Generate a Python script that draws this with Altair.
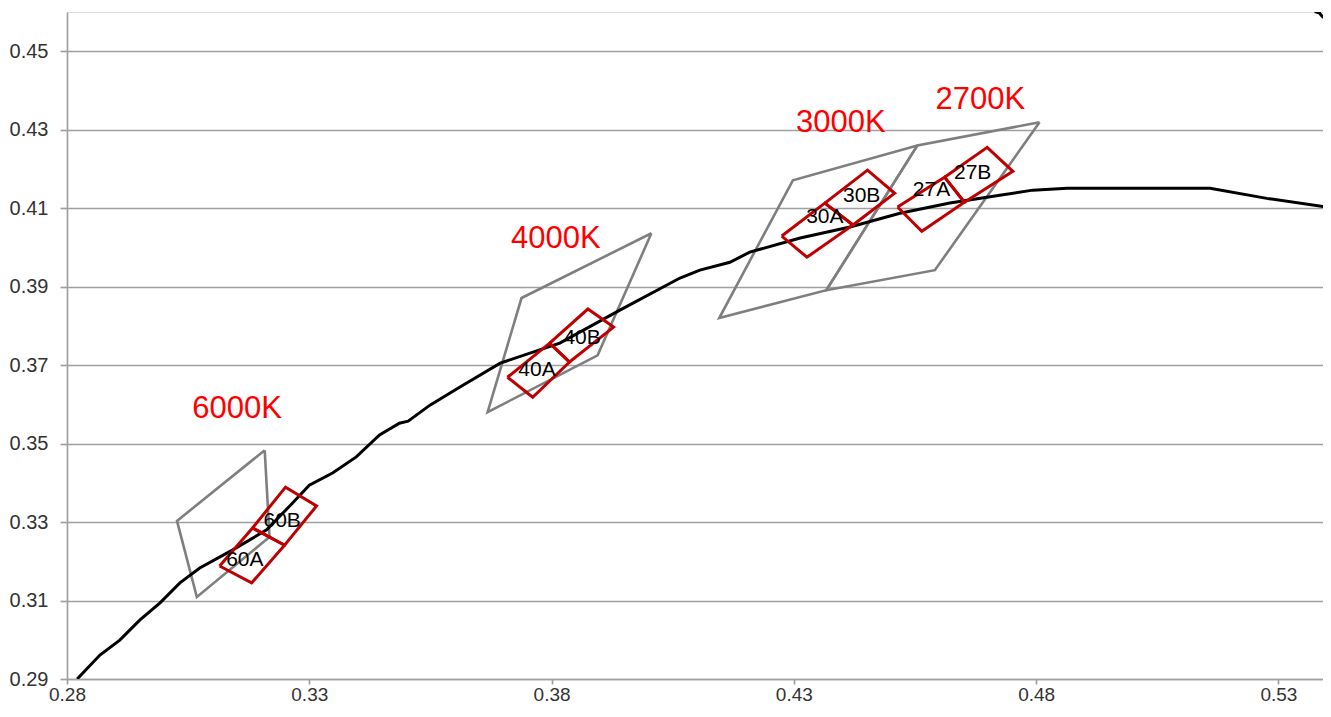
import altair as alt
import pandas as pd

# ---- Planckian locus (black curve) ----
locus_x = [0.2821, 0.2868, 0.2909, 0.2950, 0.2992, 0.3033, 0.3074, 0.3142, 0.3212,
           0.3265, 0.3300, 0.3348, 0.3397, 0.3445, 0.3486, 0.3504, 0.3549, 0.3611,
           0.3694, 0.3817, 0.3941, 0.4065, 0.4106, 0.4168, 0.4209, 0.4313, 0.4416,
           0.4519, 0.4622, 0.4725, 0.4793, 0.4864, 0.5159, 0.5276, 0.5400]
locus_y = [0.2900, 0.2961, 0.2999, 0.3050, 0.3094, 0.3145, 0.3183, 0.3229, 0.3280,
           0.3348, 0.3394, 0.3425, 0.3466, 0.3522, 0.3552, 0.3557, 0.3598, 0.3644,
           0.3705, 0.3756, 0.3840, 0.3922, 0.3942, 0.3962, 0.3988, 0.4024, 0.4052,
           0.4087, 0.4113, 0.4133, 0.4146, 0.4151, 0.4151, 0.4125, 0.4103]

# small piece of another series visible at top-right corner
hook_x = [0.5375, 0.5385, 0.5393]
hook_y = [0.4601, 0.4597, 0.4585]

# ---- gray ANSI quadrangles ----
gray_names = ["6000K", "4000K", "3000K", "2700K"]
gray_x = [[0.3208, 0.3027, 0.3068, 0.3218],
          [0.4006, 0.3738, 0.3668, 0.3895],
          [0.4555, 0.4298, 0.4146, 0.4367],
          [0.4807, 0.4555, 0.4367, 0.4591]]
gray_y = [[0.3483, 0.3303, 0.3109, 0.3262],
          [0.4036, 0.3871, 0.3580, 0.3725],
          [0.4260, 0.4171, 0.3820, 0.3891],
          [0.4319, 0.4260, 0.3891, 0.3942]]

# ---- red sub-bins ----
red_names = ["60A", "60B", "40A", "40B", "30A", "30B", "27A", "27B"]
red_x = [[0.3115, 0.3181, 0.3249, 0.3183],
         [0.3183, 0.3249, 0.3315, 0.3251],
         [0.3709, 0.3761, 0.3837, 0.3796],
         [0.3796, 0.3837, 0.3928, 0.3875],
         [0.4275, 0.4327, 0.4422, 0.4364],
         [0.4364, 0.4422, 0.4508, 0.4452],
         [0.4514, 0.4564, 0.4652, 0.4611],
         [0.4611, 0.4652, 0.4752, 0.4699]]
red_y = [[0.3188, 0.3145, 0.3241, 0.3285],
         [0.3285, 0.3241, 0.3341, 0.3389],
         [0.3669, 0.3618, 0.3708, 0.3756],
         [0.3756, 0.3708, 0.3797, 0.3843],
         [0.4029, 0.3975, 0.4057, 0.4113],
         [0.4113, 0.4057, 0.4138, 0.4197],
         [0.4103, 0.4041, 0.4115, 0.4179],
         [0.4179, 0.4115, 0.4194, 0.4255]]
red_label_x = [0.3167, 0.3244, 0.3770, 0.3863, 0.4364, 0.4440, 0.4584, 0.4669]
red_label_y = [0.3203, 0.3302, 0.3687, 0.3769, 0.4077, 0.4131, 0.4146, 0.4189]

cct_labels = ["6000K", "4000K", "3000K", "2700K"]
cct_label_x = [0.3151, 0.3809, 0.4397, 0.4685]
cct_label_y = [0.3588, 0.4021, 0.4317, 0.4375]

x_ticks = [0.28, 0.33, 0.38, 0.43, 0.48, 0.53]
y_ticks = [0.29, 0.31, 0.33, 0.35, 0.37, 0.39, 0.41, 0.43, 0.45]
x_domain = [0.28, 0.5392]
y_domain = [0.29, 0.46]

FONT = "Liberation Sans, Arial, sans-serif"

# ---- build tables ----
locus = pd.DataFrame({"x": locus_x, "y": locus_y, "i": range(len(locus_x))})
hook = pd.DataFrame({"x": hook_x, "y": hook_y, "i": range(len(hook_x))})


def poly_table(names, xs, ys):
    rows = []
    for n, px, py in zip(names, xs, ys):
        pts = list(zip(px, py)) + [(px[0], py[0])]
        for k, (a, b) in enumerate(pts):
            rows.append({"name": n, "x": a, "y": b, "i": k})
    return pd.DataFrame(rows)


gray = poly_table(gray_names, gray_x, gray_y)
red = poly_table(red_names, red_x, red_y)
red_lab = pd.DataFrame({"t": red_names, "x": red_label_x, "y": red_label_y})
cct_lab = pd.DataFrame({"t": cct_labels, "x": cct_label_x, "y": cct_label_y})

xs = alt.Scale(domain=x_domain, nice=False, zero=False)
ys = alt.Scale(domain=y_domain, nice=False, zero=False)

xenc = alt.X("x:Q", scale=xs, axis=alt.Axis(
    values=x_ticks, format=".2f", grid=False, title=None,
    domainColor="#a0a0a0", domainWidth=1.7, tickColor="#a0a0a0", tickWidth=1.7,
    tickSize=5, labelFont=FONT, labelFontSize=19, labelColor="#333333",
    labelPadding=1, labelFlush=False))
yenc = alt.Y("y:Q", scale=ys, axis=alt.Axis(
    values=y_ticks, format=".2f", grid=True, gridColor="#a0a0a0", gridWidth=1.7,
    title=None, domainColor="#a0a0a0", domainWidth=1.7, tickColor="#a0a0a0",
    tickWidth=1.7, tickSize=7, labelFont=FONT, labelFontSize=20,
    labelColor="#333333", labelPadding=12, labelFlush=False))

gray_layer = alt.Chart(gray).mark_line(color="#7f7f7f", strokeWidth=2.6, clip=True).encode(
    x=xenc, y=yenc, detail="name:N", order="i:Q")
locus_layer = alt.Chart(locus).mark_line(color="#000000", strokeWidth=3, clip=True).encode(
    x="x:Q", y="y:Q", order="i:Q")
hook_layer = alt.Chart(hook).mark_line(color="#000000", strokeWidth=3, clip=True).encode(
    x="x:Q", y="y:Q", order="i:Q")
red_layer = alt.Chart(red).mark_line(color="#c00000", strokeWidth=3, clip=True).encode(
    x="x:Q", y="y:Q", detail="name:N", order="i:Q")
red_text = alt.Chart(red_lab).mark_text(font=FONT, fontSize=21, color="#000000",
                                        align="center", baseline="middle").encode(
    x="x:Q", y="y:Q", text="t:N")
cct_text = alt.Chart(cct_lab).mark_text(font=FONT, fontSize=31, color="#ff0000",
                                        align="center", baseline="middle").encode(
    x="x:Q", y="y:Q", text="t:N")

chart = alt.layer(gray_layer, locus_layer, hook_layer, red_layer, red_text, cct_text).properties(
    width=1256, height=667,
    autosize=alt.AutoSizeParams(type="none"),
    padding={"left": 59, "top": 4, "right": 0, "bottom": 26},
).configure_view(stroke=None).configure(background="white")

chart.save("out.html", embed_options={"renderer": "svg", "actions": False})
